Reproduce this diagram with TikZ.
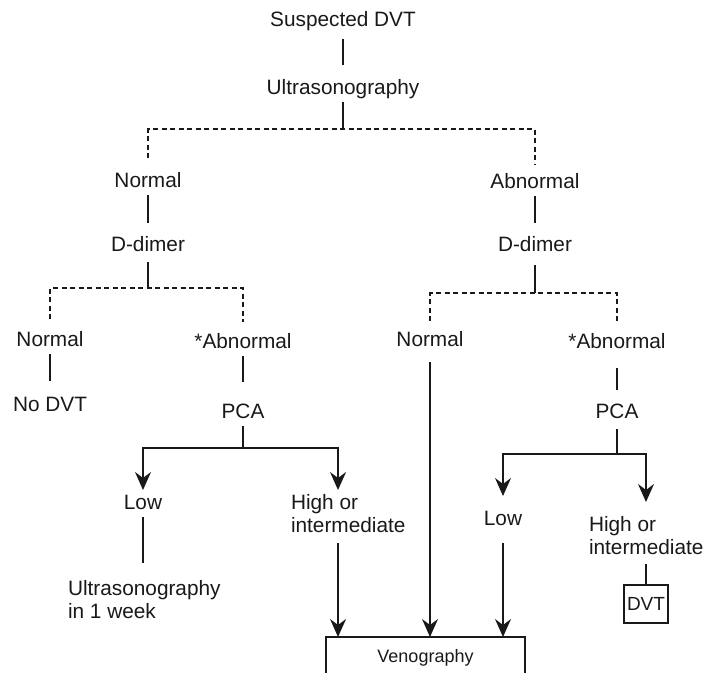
\documentclass[tikz,border=0pt]{standalone}
\usepackage{fontspec}
\setmainfont{Liberation Sans}
\usetikzlibrary{arrows.meta}
\tikzset{
  lbl/.style={inner sep=0pt, outer sep=4pt, text height=15pt, text depth=4pt, anchor=base},
  twolines/.style={inner sep=0pt, outer sep=4pt, align=left, anchor=north west},
  boxed/.style={draw, line width=1.5pt, inner sep=0pt, outer sep=0pt},
  link/.style={line width=1.5pt},
  into/.style={shorten >=10pt},
  branch/.style={link, dash pattern=on 5pt off 3.5pt},
  arr/.style={link, -{Stealth[length=18pt, width=16pt, inset=6pt]}},
}

\begin{document}
\begin{tikzpicture}[x=1pt, y=-1pt, font=\fontsize{20.8}{23}\selectfont, black!90]
  \useasboundingbox (0,0) rectangle (704,672);
  \clip (0,0) rectangle (704,672);

  % first test
  \node[lbl] (sus) at (343,26) {Suspected DVT};
  \node[lbl] (ult) at (343,94) {Ultrasonography};
  \coordinate (jU) at (343,129);
  \node[lbl] (normA) at (148,187) {Normal};
  \node[lbl] (abnA) at (535,188) {Abnormal};
  \node[lbl] (ddL) at (148,251) {D-dimer};
  \node[lbl] (ddR) at (535,251) {D-dimer};
  \coordinate (jDL) at (148,288);
  \coordinate (jDR) at (535,293);

  % second test
  \node[lbl] (normB) at (50,346) {Normal};
  \node[lbl] (abnB) at (243,348) {*Abnormal};
  \node[lbl] (normR) at (430,346) {Normal};
  \node[lbl] (abnR) at (617,348) {*Abnormal};
  \node[lbl] (nodvt) at (50,411) {No DVT};
  \node[lbl] (pcaL) at (243,418) {PCA};
  \node[lbl] (pcaR) at (617,418) {PCA};
  \coordinate (jPL) at (243,448);
  \coordinate (jPR) at (617,454);

  % clinical probability
  \node[lbl] (lowL) at (143,509) {Low};
  \node[twolines] (highL) at (287,490) {High or\\intermediate};
  \node[lbl] (lowR) at (503,525) {Low};
  \node[twolines] (highR) at (585,512) {High or\\intermediate};
  \node[twolines] (u1w) at (64,576) {Ultrasonography\\in 1 week};
  \node[boxed, font=\fontsize{18}{21}\selectfont, anchor=north,
        minimum width=199pt, minimum height=41pt] (veno) at (425.5,637) {Venography};
  \node[boxed, font=\fontsize{19}{22}\selectfont,
        minimum width=44pt, minimum height=38pt] (dvt) at (646,604) {DVT};

  \draw[link, shorten <=5pt, into] (sus) -- (ult);
  \draw[link] (ult) -- (jU);
  \draw[branch, shorten <=10pt, shorten >=4pt] (normA) |- (jU) -| (abnA);
  \draw[link, shorten >=9pt] (normA) -- (ddL);
  \draw[link, shorten >=9pt] (abnA) -- (ddR);
  \draw[link, shorten <=3pt] (ddL) -- (jDL);
  \draw[link, shorten <=6pt] (ddR) -- (jDR);
  \draw[branch, shorten <=8pt, shorten >=7pt] (normB) |- (jDL) -| (abnB);
  \draw[branch, shorten <=6pt, shorten >=6pt] (normR) |- (jDR) -| (abnR);

  \draw[link, shorten >=11pt] (normB) -- (nodvt);
  \draw[link, shorten >=17pt] (abnB) -- (pcaL);
  \draw[link] (pcaL) -- (jPL);
  \draw[link, shorten <=12pt, shorten >=9pt] (abnR) -- (pcaR);
  \draw[link, shorten <=3pt] (pcaR) -- (jPR);

  \draw[arr] (jPL) -| (lowL);
  \draw[arr] (jPL) -| ([xshift=-10.2pt]highL.north);
  \draw[arr, shorten >=10pt] (jPR) -| (lowR);
  \draw[arr, shorten >=10pt] (jPR) -| (highR.north -| dvt);

  \draw[link, shorten >=13pt] (lowL) -- (lowL |- u1w.north);
  \draw[arr, shorten <=7pt] ([xshift=-10.2pt]highL.south) -- ([xshift=-10.2pt]highL.south |- veno.north);
  \draw[arr, shorten <=8pt] (normR) -- (normR |- veno.north);
  \draw[arr, shorten <=10pt] (lowR) -- (lowR |- veno.north);
  \draw[link, shorten <=6pt] (dvt.north |- highR.south) -- (dvt);
\end{tikzpicture}
\end{document}
